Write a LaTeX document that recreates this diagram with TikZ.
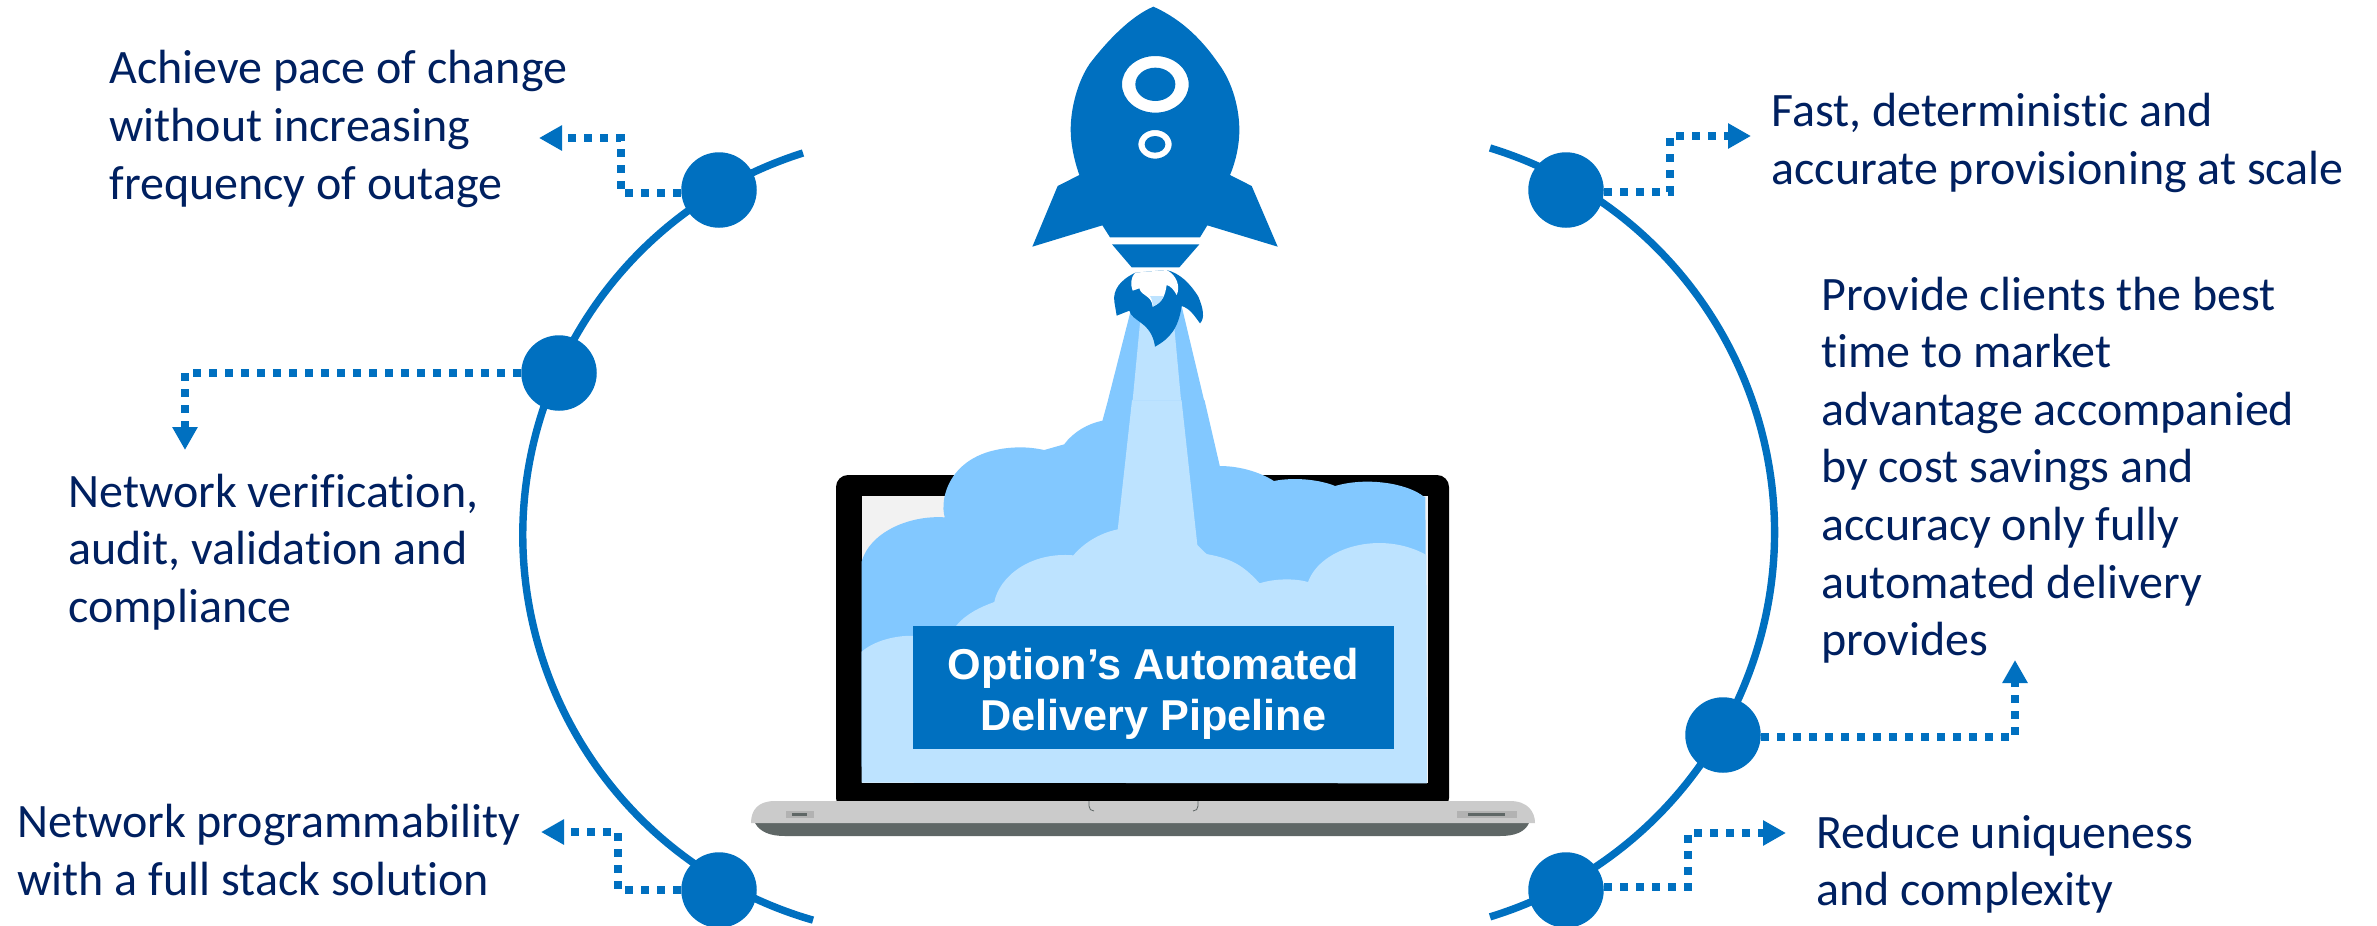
\documentclass[tikz,border=0pt]{standalone}
\usepackage{fontspec}
\setmainfont[Ligatures=NoCommon]{Carlito}
\newfontfamily\arialb[BoldFont={Liberation Sans Bold}]{Liberation Sans}
\usetikzlibrary{arrows.meta}
\definecolor{pipeblue}{HTML}{0070C0}
\definecolor{navytext}{HTML}{002060}
\definecolor{clouddark}{HTML}{82C8FF}
\definecolor{cloudlight}{HTML}{BDE3FF}
\definecolor{basegray}{HTML}{CBCBCB}
\definecolor{basedark}{HTML}{5F6766}
\tikzset{
  pointdot/.style={circle,fill=pipeblue,minimum size=37.75pt,inner sep=0pt},
  ringarc/.style={draw=pipeblue,line width=3.7pt},
  dotline/.style={draw=pipeblue,line width=4pt,dash pattern=on 4pt off 4pt,-{Triangle[length=11.5pt,width=12pt]}},
  bodytext/.style={anchor=west,align=left,inner sep=0pt,text=navytext,font=\fontsize{24}{28.8}\selectfont},
  titlebox/.style={fill=pipeblue,inner sep=0pt,minimum width=240.5pt,minimum height=61.5pt},
  titletext/.style={text=white,align=center,inner sep=0pt,font=\arialb\bfseries\fontsize{21.6}{25.5}\selectfont},
}
\begin{document}
\begin{tikzpicture}[x=0.5pt,y=-0.5pt]
\useasboundingbox (0,0) rectangle (2377,926);
% laptop
\fill[rounded corners=6pt] (836,475) rectangle (1449,810);
\fill[black!5] (862,496) rectangle (1428,783);
% plume outer and clouds
\begin{scope}[shift={(780,400)},x=0.2551pt,y=-0.16667pt]
\fill[clouddark] (160,1100) -- (160,485) .. controls (175,400) and (250,345) .. (323,352)
  .. controls (312,300) and (330,145) .. (470,142) .. controls (490,142) and (505,146) .. (518,150)
  -- (557,133) .. controls (575,95) and (605,70) .. (632,62)
  -- (643,0) -- (832,0) -- (857,165) -- (862,198)
  .. controls (905,198) and (945,220) .. (968,243)
  .. controls (1010,230) and (1060,240) .. (1088,258)
  .. controls (1150,230) and (1230,250) .. (1262,290) -- (1265,290) -- (1267,1100) -- cycle;
\fill[cloudlight] (160,755) .. controls (190,715) and (240,705) .. (262,708) -- (345,678)
  .. controls (365,640) and (395,620) .. (420,606)
  .. controls (430,530) and (490,455) .. (575,466)
  .. controls (595,430) and (625,400) .. (662,388)
  -- (690,0) -- (787,0) -- (818,435) -- (836,462)
  .. controls (880,475) and (905,490) .. (940,550)
  .. controls (970,535) and (1010,535) .. (1035,546)
  .. controls (1060,440) and (1180,390) .. (1267,465)
  -- (1268,1150) -- (160,1148) -- cycle;
\end{scope}
% base
\fill[basedark] (755,823) .. controls (760,832) and (770,836) .. (785,836) -- (1500,836) .. controls (1515,836) and (1525,832) .. (1529,823) -- cycle;
\fill[basegray] (751,823) .. controls (751,810) and (758,801) .. (775,801) -- (1510,801) .. controls (1528,801) and (1535,812) .. (1535,823) -- cycle;
\fill[black!30] (786,811) rectangle (814,818);
\fill[basedark] (792,813) rectangle (807,816);
\fill[black!30] (1457,811) rectangle (1517,818);
\fill[basedark] (1468,813) rectangle (1505,816);
\draw[basedark,line width=0.4pt] (1089,801) -- (1089,806) .. controls (1089,809) and (1091,811) .. (1094,811);
\draw[basedark,line width=0.4pt] (1198,801) -- (1198,806) .. controls (1198,809) and (1196,811) .. (1193,811);
\node[titlebox] (title) at (1153.5,687.5) {};
\node[titletext,yshift=-3pt] (titlelabel) at (title) {Option’s Automated\\Delivery Pipeline};
% rocket
\begin{scope}[shift={(950,0)},x=0.16667pt,y=-0.16667pt]
\fill[clouddark] (474,1200) -- (554,885) -- (687,885) -- (762,1200) -- cycle;
\fill[cloudlight] (548,1200) -- (578,885) -- (664,885) -- (693,1200) -- cycle;
\fill[pipeblue,even odd rule] (610,20) .. controls (700,60) and (760,125) .. (805,190)
  .. controls (850,250) and (868,330) .. (868,390) .. controls (868,440) and (855,490) .. (840,525)
  -- (905,558) -- (983,740) -- (772,676) -- (750,712) -- (480,712) -- (457,676) -- (247,740) -- (323,558) -- (388,525)
  .. controls (372,480) and (362,430) .. (362,390) .. controls (362,320) and (385,240) .. (420,190)
  .. controls (470,125) and (540,50) .. (610,20) -- cycle
  (716,253) arc[start angle=0,end angle=360,x radius=100,y radius=85]
  (676,253) arc[start angle=0,end angle=360,x radius=60,y radius=50]
  (665,433) arc[start angle=0,end angle=360,x radius=50,y radius=43]
  (646,433) arc[start angle=0,end angle=360,x radius=31,y radius=25];
\fill[pipeblue] (486,733) -- (748,733) -- (688,802) -- (545,802) -- cycle;
\fill[pipeblue] (556,818) .. controls (510,840) and (488,870) .. (493,905) -- (500,947) -- (538,932)
  .. controls (545,965) and (605,965) .. (615,1040) .. controls (660,1015) and (685,985) .. (695,918)
  .. controls (720,925) and (735,950) .. (750,970) .. controls (765,955) and (760,925) .. (745,890)
  .. controls (720,850) and (690,820) .. (650,810) -- cycle;
\fill[white] (556,818) .. controls (540,835) and (542,855) .. (548,872) -- (568,865)
  .. controls (575,890) and (605,885) .. (608,920) .. controls (640,905) and (645,885) .. (650,855)
  .. controls (662,858) and (672,870) .. (680,885) .. controls (692,860) and (680,825) .. (650,810) -- cycle;
\fill[cloudlight] (600,888) -- (640,888) .. controls (635,905) and (625,912) .. (608,920) .. controls (608,905) and (605,895) .. (600,888) -- cycle;
\end{scope}
% arcs
\coordinate (ltop) at (803,153);
\coordinate (rtop) at (1490,148);
\draw[ringarc] (ltop) arc[start angle=252.5,end angle=106,radius=400.6];
\draw[ringarc] (rtop) arc[start angle=-73,end angle=73,radius=402];
% free ends
\coordinate (t1) at (539,138); \coordinate (b1) at (621,138);
\coordinate (t2) at (185,450);
\coordinate (t3) at (541,832); \coordinate (b3) at (618,832);
\coordinate (t4) at (1751,136); \coordinate (b4) at (1670,136);
\coordinate (t5) at (2015,660);
\coordinate (t6) at (1786,833); \coordinate (b6) at (1688,833);
% connectors
\node[pointdot] (c1) at (719,190) {};
\node[pointdot] (c2) at (559,373) {};
\node[pointdot] (c3) at (719,890) {};
\node[pointdot] (c4) at (1566,190) {};
\node[pointdot] (c5) at (1723,735) {};
\node[pointdot] (c6) at (1566,890) {};
\draw[dotline] (c1.west) ++(0,3) -| (b1) -- (t1);
\draw[dotline] (c2.west) -| (t2);
\draw[dotline] (c3.west) -| (b3) -- (t3);
\draw[dotline] (c4.east) ++(0,2) -| (b4) -- (t4);
\draw[dotline] (c5.east) ++(0,2) -| (t5);
\draw[dotline] (c6.east) ++(0,-3) -| (b6) -- (t6);
% text
\node[bodytext] (n1) at (109,129) {Achieve pace of change\\without increasing\\frequency of outage};
\node[bodytext] (n2) at (68,552) {Network verification,\\audit, validation and\\compliance};
\node[bodytext] (n3) at (17,850) {Network programmability\\with a full stack solution};
\node[bodytext] (n4) at (1771,143) {Fast, deterministic and\\accurate provisioning at scale};
\node[bodytext] (n5) at (1821,470) {Provide clients the best\\time to market\\advantage accompanied\\by cost savings and\\accuracy only fully\\automated delivery\\provides};
\node[bodytext] (n6) at (1816,864) {Reduce uniqueness\\and complexity};
\end{tikzpicture}
\end{document}
